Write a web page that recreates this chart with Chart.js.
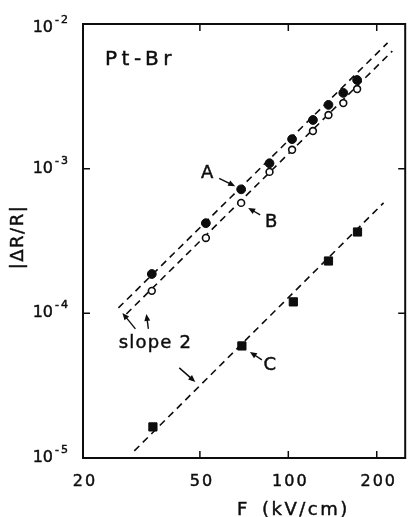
<!DOCTYPE html>
<html>
<head>
<meta charset="utf-8">
<script src="https://cdn.jsdelivr.net/npm/chart.js@4/dist/chart.umd.min.js"></script>
<style>
  html, body { margin: 0; padding: 0; background: #fff; }
  #wrap { width: 412px; height: 517px; }
</style>
</head>
<body>
<div id="wrap"><canvas id="chart" width="412" height="517"></canvas></div>
<script>
// field F (kV/cm) and |dR/R|
const fieldAB = [34.3, 52.4, 69.1, 86.3, 103, 121.3, 137, 153.9, 171.5];
const valuesA = [1.87e-4, 4.2e-4, 7.2e-4, 1.09e-3, 1.6e-3, 2.17e-3, 2.76e-3, 3.34e-3, 4.1e-3];
const valuesB = [1.43e-4, 3.32e-4, 5.8e-4, 9.5e-4, 1.35e-3, 1.82e-3, 2.35e-3, 2.84e-3, 3.55e-3];
const fieldC = [34.6, 69.5, 104, 137, 172];
const valuesC = [1.64e-5, 5.95e-5, 1.2e-4, 2.3e-4, 3.65e-4];

// slope-2 guide lines (end points)
const fitFieldA = [26.4, 217.7];
const fitA = [1.09e-4, 7.4e-3];
const fitFieldB = [28.1, 226];
const fitB = [9.9e-5, 6.5e-3];
const fitFieldC = [29.9, 211];
const fitC = [1.12e-5, 5.8e-4];

const xTicks = [20, 50, 100, 200];
const xTickLabels = ['20', '50', '100', '200'];
const yTicks = [1e-5, 1e-4, 1e-3, 1e-2];
const yTickExp = ['-5', '-4', '-3', '-2'];

const INK = '#0d0d0d';
const FONT = '"DejaVu Sans", Verdana, sans-serif';

const toPoints = (xs, ys) => xs.map((x, i) => ({ x, y: ys[i] }));

function fitDataset(xs, ys) {
  return {
    type: 'line',
    data: toPoints(xs, ys),
    borderColor: INK,
    borderWidth: 1.6,
    borderDash: [7, 5],
    pointRadius: 0,
    fill: false,
    order: 2
  };
}

// annotation layout: offsets in px from an anchor given in data space
const notes = [
  { text: 'A', anchor: () => [fieldAB[2], valuesA[2]], label: [-34, -16], arrow: [[-22, -11], [-6, -3]] },
  { text: 'B', anchor: () => [fieldAB[2], valuesB[2]], label: [30, 19], arrow: [[19, 12], [7, 5]] },
  { text: 'C', anchor: () => [fieldC[1], valuesC[1]], label: [28, 19], arrow: [[20, 14], [8, 6]] },
  { text: 'slope 2', anchor: () => [fitFieldA[0], fitA[0]], label: [37, 35], arrow: [[17, 21], [4, 5]] },
  { text: '', anchor: () => [fitFieldB[0], fitB[0]], arrow: [[22, 15], [20, 0]] },
  { text: '', anchor: () => [fitFieldC[0], fitC[0]], arrow: [[45, -83], [61, -69]] }
];

function drawArrow(ctx, x1, y1, x2, y2) {
  const ang = Math.atan2(y2 - y1, x2 - x1);
  const len = 7;
  const wid = 3;
  ctx.beginPath();
  ctx.moveTo(x1, y1);
  ctx.lineTo(x2 - Math.cos(ang) * len * 0.6, y2 - Math.sin(ang) * len * 0.6);
  ctx.stroke();
  ctx.beginPath();
  ctx.moveTo(x2, y2);
  ctx.lineTo(x2 - Math.cos(ang) * len - Math.sin(ang) * wid, y2 - Math.sin(ang) * len + Math.cos(ang) * wid);
  ctx.lineTo(x2 - Math.cos(ang) * len + Math.sin(ang) * wid, y2 - Math.sin(ang) * len - Math.cos(ang) * wid);
  ctx.closePath();
  ctx.fill();
}

// scanned type looks a little heavier than plain DejaVu
function inkText(ctx, s, x, y) {
  ctx.fillText(s, x, y);
  ctx.lineWidth = 0.45;
  ctx.strokeText(s, x, y);
}

const framePlugin = {
  id: 'frame',
  afterDraw(chart) {
    const { ctx, chartArea: a, scales } = chart;
    const sx = scales.x;
    const sy = scales.y;
    ctx.save();
    ctx.strokeStyle = INK;
    ctx.fillStyle = INK;

    // box
    ctx.lineWidth = 2;
    ctx.strokeRect(a.left, a.top, a.right - a.left, a.bottom - a.top);

    // inward ticks
    ctx.lineWidth = 1.5;
    const tl = 7;
    xTicks.forEach((v) => {
      const px = sx.getPixelForValue(v);
      if (px <= a.left + 1) return;
      ctx.beginPath();
      ctx.moveTo(px, a.bottom); ctx.lineTo(px, a.bottom - tl);
      ctx.moveTo(px, a.top); ctx.lineTo(px, a.top + tl);
      ctx.stroke();
    });
    yTicks.forEach((v) => {
      const py = sy.getPixelForValue(v);
      if (py <= a.top + 1 || py >= a.bottom - 1) return;
      ctx.beginPath();
      ctx.moveTo(a.left - 1, py); ctx.lineTo(a.left + tl, py);
      ctx.moveTo(a.right, py); ctx.lineTo(a.right - tl, py);
      ctx.stroke();
    });

    // x tick labels
    ctx.font = '16px ' + FONT;
    ctx.letterSpacing = '2px';
    ctx.textAlign = 'center';
    ctx.textBaseline = 'middle';
    xTicks.forEach((v, i) => {
      inkText(ctx, xTickLabels[i], sx.getPixelForValue(v) + 2, 482);
    });

    // y tick labels, 10 with raised exponent
    yTicks.forEach((v, i) => {
      const py = Math.max(sy.getPixelForValue(v), a.top + 4);
      ctx.font = '16px ' + FONT;
      ctx.letterSpacing = '0px';
      ctx.textAlign = 'right';
      ctx.textBaseline = 'middle';
      inkText(ctx, '10', 53, py);
      ctx.font = '11px ' + FONT;
      ctx.letterSpacing = '2px';
      ctx.textAlign = 'left';
      inkText(ctx, yTickExp[i], 55, py - 8);
    });

    // axis titles
    ctx.font = '18px ' + FONT;
    ctx.letterSpacing = '2.5px';
    ctx.textAlign = 'left';
    ctx.textBaseline = 'middle';
    inkText(ctx, 'F', 237, 510);
    inkText(ctx, '(kV/cm)', 262, 510);

    ctx.save();
    ctx.translate(18, 237);
    ctx.rotate(-Math.PI / 2);
    ctx.letterSpacing = '1.5px';
    ctx.textAlign = 'center';
    inkText(ctx, '|ΔR/R|', 0, 0);
    ctx.restore();

    // sample name
    ctx.font = '20px ' + FONT;
    ctx.letterSpacing = '4.5px';
    ctx.textAlign = 'left';
    inkText(ctx, 'Pt-Br', a.left + 22, 60);

    // notes and arrows
    notes.forEach((n) => {
      const [dx, dy] = n.anchor();
      const ax = sx.getPixelForValue(dx);
      const ay = sy.getPixelForValue(dy);
      if (n.text) {
        ctx.font = '18px ' + FONT;
        ctx.letterSpacing = n.text.length > 1 ? '1.2px' : '0px';
        ctx.textAlign = 'center';
        inkText(ctx, n.text, ax + n.label[0], ay + n.label[1]);
      }
      ctx.lineWidth = 1.4;
      drawArrow(ctx, ax + n.arrow[0][0], ay + n.arrow[0][1], ax + n.arrow[1][0], ay + n.arrow[1][1]);
    });
    ctx.restore();
  }
};

new Chart(document.getElementById('chart'), {
  type: 'scatter',
  data: {
    datasets: [
      fitDataset(fitFieldA, fitA),
      fitDataset(fitFieldB, fitB),
      fitDataset(fitFieldC, fitC),
      {
        label: 'A',
        data: toPoints(fieldAB, valuesA),
        pointStyle: 'circle',
        pointRadius: 4.4,
        backgroundColor: INK,
        borderColor: INK,
        borderWidth: 1,
        order: 1
      },
      {
        label: 'B',
        data: toPoints(fieldAB, valuesB),
        pointStyle: 'circle',
        pointRadius: 3.4,
        backgroundColor: '#fff',
        borderColor: INK,
        borderWidth: 1.6,
        order: 1
      },
      {
        label: 'C',
        data: toPoints(fieldC, valuesC),
        pointStyle: 'rect',
        pointRadius: 5.8,
        backgroundColor: INK,
        borderColor: INK,
        borderWidth: 1,
        order: 1
      }
    ]
  },
  options: {
    responsive: false,
    animation: false,
    devicePixelRatio: 1,
    layout: { padding: { left: 83, right: 1, top: 24, bottom: 59 } },
    plugins: { legend: { display: false }, tooltip: { enabled: false } },
    scales: {
      x: { type: 'logarithmic', min: 20, max: 250, display: false },
      y: { type: 'logarithmic', min: 1e-5, max: 1e-2, display: false }
    }
  },
  plugins: [framePlugin]
});
</script>
</body>
</html>
